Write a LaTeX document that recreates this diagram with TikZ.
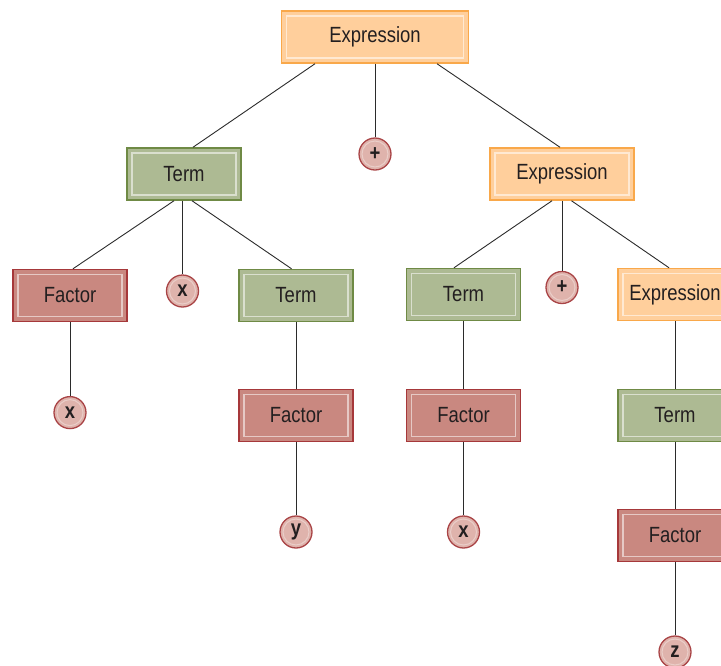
\documentclass[tikz,border=0pt]{standalone}
\usepackage{fontspec}
\setmainfont{Liberation Sans}[FakeStretch=0.84]
\usepackage{xcolor}
\usetikzlibrary{positioning}

\definecolor{exprfill}{HTML}{FFCF9C}
\definecolor{exprline}{HTML}{F9A84A}
\definecolor{termfill}{HTML}{ADBA93}
\definecolor{termline}{HTML}{6F8A45}
\definecolor{factfill}{HTML}{C98880}
\definecolor{factline}{HTML}{A6383A}
\definecolor{leaffill}{HTML}{DFB3AC}
\definecolor{leafline}{HTML}{A94446}
\definecolor{inktext}{HTML}{231F20}
\definecolor{edgeline}{HTML}{2B2B2B}

\begin{document}
\begin{tikzpicture}[x=1pt,y=-1pt,
  box/.style={rectangle,line width=1.5pt,inner sep=0pt,minimum height=52pt,
    minimum width=114pt,text=inktext,font=\fontsize{22}{26}\selectfont,
    path picture={\draw[white,opacity=0.55,line width=1.1pt]
      ([shift={(5pt,-5pt)}]path picture bounding box.north west) rectangle
      ([shift={(-5pt,5pt)}]path picture bounding box.south east);}},
  expr/.style={box,fill=exprfill,draw=exprline},
  term/.style={box,fill=termfill,draw=termline},
  fact/.style={box,fill=factfill,draw=factline},
  leaf/.style={circle,fill=leaffill,draw=leafline,line width=1.3pt,inner sep=0pt,
    minimum size=32pt,text=inktext,font=\fontsize{22}{24}\selectfont\bfseries,
    path picture={\draw[white,opacity=0.35,line width=1pt]
      (path picture bounding box.center) circle (13pt);}},
  edge/.style={draw=edgeline,line width=0.9pt}]
\clip (0,0) rectangle (721,665);

% top level
\node[expr,minimum width=187pt] (e1) at (375,37) {Expression};
\node[term] (t1) at (184,174) {Term};
\node[leaf] (p1) at (375,154) {+};
\node[expr,minimum width=144pt] (e2) at (562,174) {Expression};

% left branch
\node[fact] (f1) at (70,295.5) {Factor};
\node[leaf] (x1) at (182.5,291) {x};
\node[term] (t2) at (296,295.5) {Term};
\node[leaf] (x2) at (70,412.6) {x};
\node[fact] (f2) at (296,415.5) {Factor};
\node[leaf] (y1) at (296,532) {y};

% right branch
\node[term] (t3) at (463.5,294.5) {Term};
\node[leaf] (p2) at (562,287.5) {+};
\node[expr] (e3) at (675,294.5) {Expression};
\node[fact] (f3) at (463.5,415.5) {Factor};
\node[term] (t4) at (675,415.5) {Term};
\node[leaf] (x3) at (463.5,532) {x};
\node[fact] (f4) at (675,535.5) {Factor};
\node[leaf] (z1) at (675,652) {z};

\draw[edge] ([xshift=-60pt]e1.south) -- ([xshift=9pt]t1.north);
\draw[edge] (e1.south) -- (p1.north);
\draw[edge] ([xshift=62pt]e1.south) -- ([xshift=-2pt]e2.north);
\draw[edge] ([xshift=-10pt]t1.south) -- ([xshift=3pt]f1.north);
\draw[edge] ([xshift=-1.5pt]t1.south) -- (x1.north);
\draw[edge] ([xshift=8pt]t1.south) -- ([xshift=-4.5pt]t2.north);
\draw[edge] ([xshift=-10pt]e2.south) -- ([xshift=-9.5pt]t3.north);
\draw[edge] (e2.south) -- (p2.north);
\draw[edge] ([xshift=9.5pt]e2.south) -- ([xshift=-6pt]e3.north);
\draw[edge] (f1) -- (x2);
\draw[edge] (t2) -- (f2);
\draw[edge] (f2) -- (y1);
\draw[edge] (t3) -- (f3);
\draw[edge] (f3) -- (x3);
\draw[edge] (e3) -- (t4);
\draw[edge] (t4) -- (f4);
\draw[edge] (f4) -- (z1);
\end{tikzpicture}
\end{document}
